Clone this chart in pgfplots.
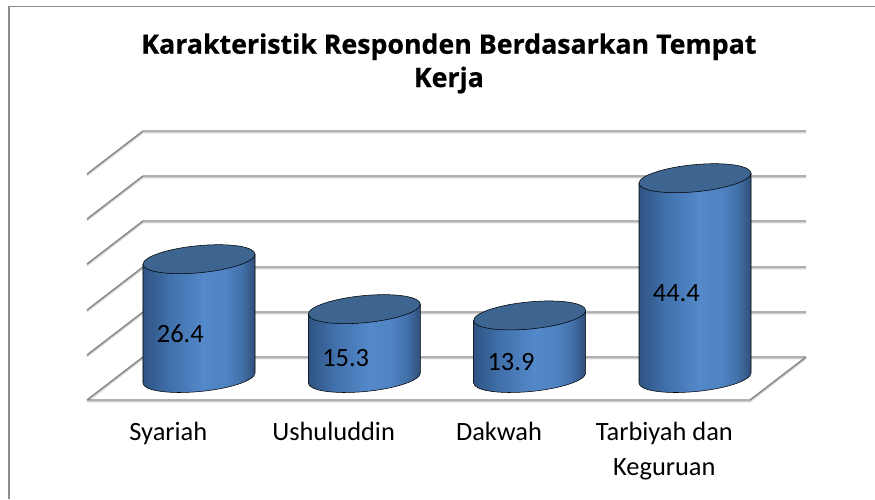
\documentclass[border=0pt]{standalone}
\usepackage{pgfplots}
\usepackage{pgfplotstable}
\usepackage{fontspec}
\pgfplotsset{compat=1.18}
\setmainfont{Carlito}
\newfontfamily\titlefont[BoldFeatures={FakeBold=0.6}]{Open Sans}
\definecolor{wall}{HTML}{8A8A8A}
\definecolor{wallsoft}{HTML}{D2D2D2}
\definecolor{frameg}{HTML}{8C8C8C}
\definecolor{ca}{HTML}{2F5483}
\definecolor{cb}{HTML}{355D90}
\definecolor{cc}{HTML}{4171AC}
\definecolor{cd}{HTML}{5388C9}
\definecolor{ce}{HTML}{4F83C3}
\definecolor{cf}{HTML}{4270A9}
\definecolor{cg}{HTML}{2F5079}
\definecolor{tb}{HTML}{3E6490}
\pgfdeclarehorizontalshading{cylbody}{100bp}{
 color(0bp)=(ca);
 color(25bp)=(ca);
 color(29bp)=(cb);
 color(37bp)=(cc);
 color(52bp)=(cd);
 color(62bp)=(ce);
 color(69bp)=(cf);
 color(75bp)=(cg);
 color(100bp)=(cg)}
\pgfdeclareplotmark{emptymark}{}
\newcommand{\drawcyl}[1]{%
 \pgfmathsetlengthmacro{\cylh}{#1*3.375pt}%
 \path[shading=cylbody] (-42pt,-3.77pt) -- ++(0pt,-\cylh)
     .. controls +(0pt,-5.63pt) and +(-23.2pt,-2.08pt) .. ++(42pt,-6.43pt)
     .. controls +(23.2pt,2.08pt) and +(0pt,-5.63pt) .. ++(42pt,13.97pt)
     -- ++(0pt,\cylh) -- cycle;
 \path[fill=tb] (-42pt,-3.77pt)
     .. controls +(0pt,-5.63pt) and +(-23.2pt,-2.08pt) .. ++(42pt,-6.43pt)
     .. controls +(23.2pt,2.08pt) and +(0pt,-5.63pt) .. ++(42pt,13.97pt)
     .. controls +(0pt,5.63pt) and +(23.2pt,2.08pt) .. ++(-42pt,6.43pt)
     .. controls +(-23.2pt,-2.08pt) and +(0pt,5.63pt) .. ++(-42pt,-13.97pt) -- cycle;}
\pgfplotstableread{
x y
143 131
806 131
nan nan
143 176
806 176
nan nan
143 221
806 221
nan nan
143 267
806 267
nan nan
143 312
806 312
nan nan
143 357
806 357
nan nan
87 174
143 131
nan nan
87 219
143 176
nan nan
87 264
143 221
nan nan
87 310
143 267
nan nan
87 355
143 312
nan nan
87 400
143 357
nan nan
87 400
750 400
806 357
}\walls
\begin{document}
\begin{tikzpicture}
\begin{axis}[
  at={(0pt,0pt)}, anchor=south west,
  scale only axis, width=656.25pt, height=374.25pt,
  xmin=0, xmax=875, ymin=0, ymax=499, y dir=reverse,
  hide axis, clip=true, unbounded coords=jump]
\addplot[draw=wallsoft, line width=1.2pt, yshift=-1.1pt] table[x=x,y=y] {\walls};
\addplot[draw=wall, line width=1.1pt] table[x=x,y=y] {\walls};
\addplot[draw=frameg, line width=1.1pt] coordinates {(9,499) (9,6.5) (875,6.5)};
\end{axis}
\begin{axis}[
  at={(0pt,0pt)}, anchor=south west,
  scale only axis, width=656.25pt, height=374.25pt,
  xmin=-1.2036, xmax=4.0887, ymin=-26.889, ymax=84,
  axis line style={draw=none}, major tick length=0pt,
  axis x line*=bottom, axis y line*=left,
  ytick=\empty, xtick={0,1,2,3},
  xticklabels={Syariah,Ushuluddin,Dakwah,{Tarbiyah dan\\Keguruan}},
  xticklabel style={align=center, anchor=north, xshift=-23pt, yshift=61pt,
     font=\fontsize{19.8}{26}\selectfont},
  title={Karakteristik Responden Berdasarkan Tempat\\Kerja},
  title style={at={(axis description cs:0.513,1)}, anchor=north, yshift=-27.5pt, align=center,
     font=\titlefont\bfseries\fontsize{20.05}{25}\selectfont}]
\addplot[scatter, only marks, mark=emptymark,
   visualization depends on=rawy \as \yval,
   scatter/@pre marker code/.code={\drawcyl{\yval}\begin{scope}},
   scatter/@post marker code/.code={\end{scope}}]
   coordinates {(0,26.4) (1,15.3) (2,13.9) (3,44.4)};
\addplot[draw=none, mark=none, point meta=explicit symbolic,
   nodes near coords,
   every node near coord/.style={anchor=center, xshift=-14pt, yshift=-11.2pt, text=black,
     font=\fontsize{19.8}{22}\selectfont}]
   coordinates {(0,13.2)[26.4] (1,7.65)[15.3] (2,6.95)[13.9] (3,22.2)[44.4]};
\end{axis}
\end{tikzpicture}
\end{document}
